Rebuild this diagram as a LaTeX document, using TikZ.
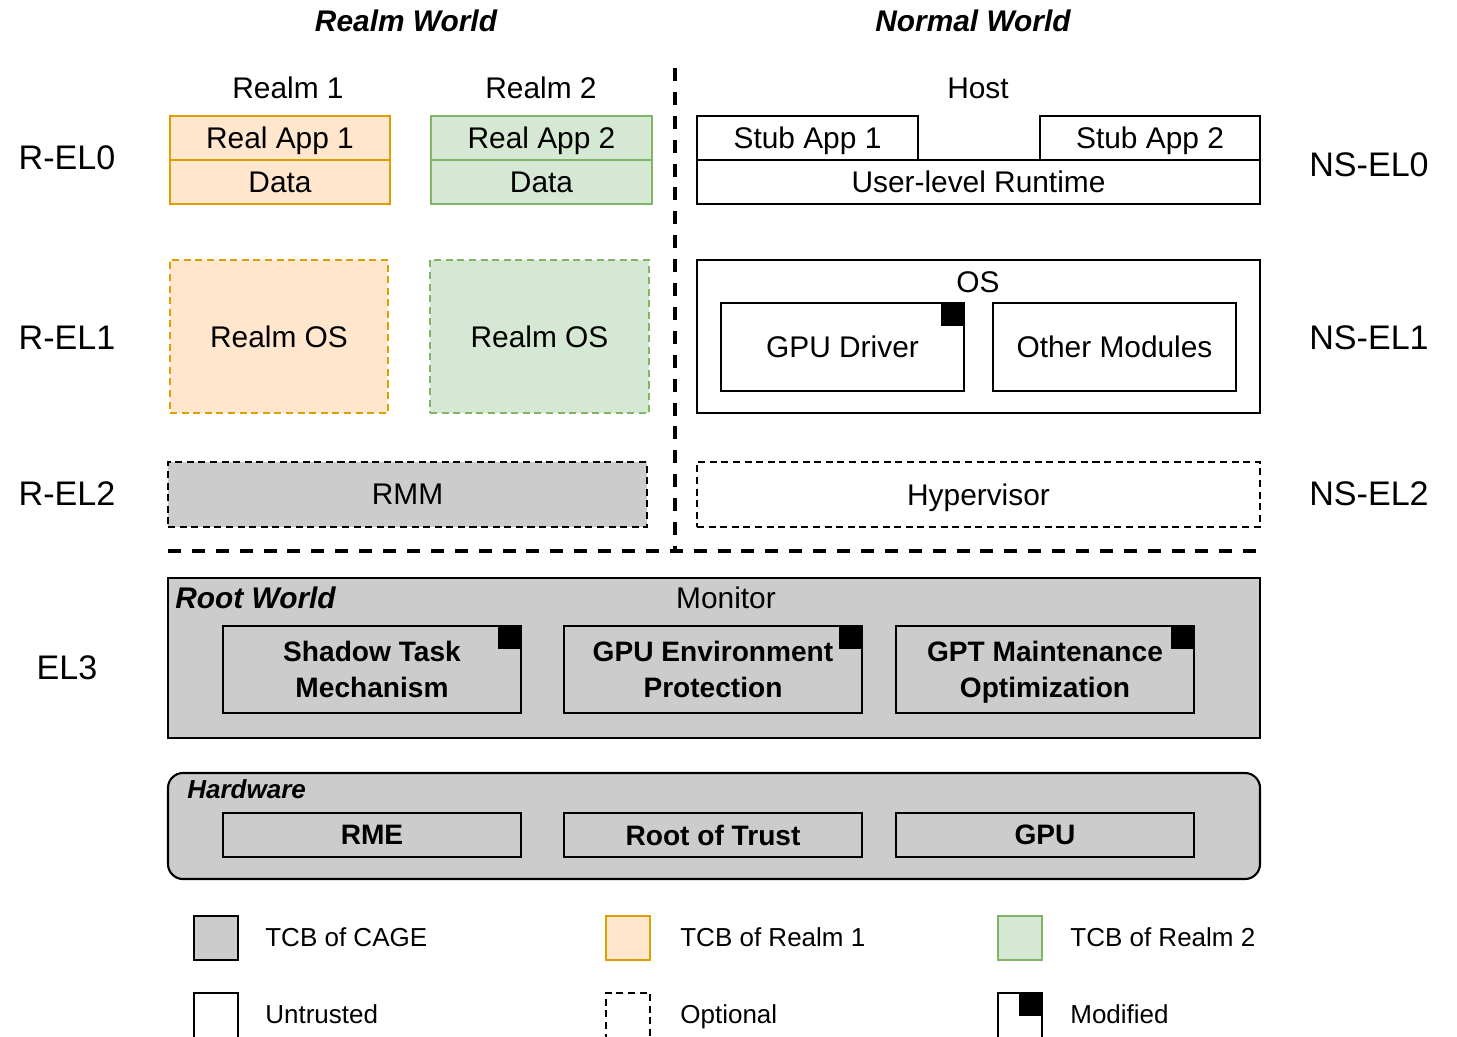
\documentclass[tikz,border=0pt]{standalone}
\usepackage{fontspec}
\setmainfont{Liberation Sans}
\definecolor{orfill}{HTML}{FFE6CC}
\definecolor{ordraw}{HTML}{DDA000}
\definecolor{grfill}{HTML}{D5E8D4}
\definecolor{grdraw}{HTML}{82B366}
\definecolor{gyfill}{HTML}{CCCCCC}
\newcommand\mybox[7]{%
  \pgfmathsetmacro\bw{(#5-#3)*0.02}%
  \pgfmathsetmacro\bh{(#6-#4)*0.02}%
  \node[#1, minimum width=\bw cm, minimum height=\bh cm, inner sep=0pt, outer sep=0pt, anchor=north west] (#2) at (#3,#4) {#7};%
}
\tikzset{
  bx/.style={draw=black, line width=1.2pt, font=\fontsize{17}{20}\selectfont, align=center, text depth=0pt},
  bbx/.style={draw=black, line width=1.2pt, font=\fontsize{16}{20.5}\selectfont\bfseries, align=center, text depth=0pt},
  orbx/.style={bx, draw=ordraw, fill=orfill},
  grbx/.style={bx, draw=grdraw, fill=grfill},
  opt/.style={dash pattern=on 4pt off 2.6pt},
  sep/.style={line width=2.3pt, dash pattern=on 7.4pt off 6.2pt},
  lbl/.style={font=\fontsize{17}{20}\selectfont, inner sep=0pt, text depth=0pt},
  ell/.style={font=\fontsize{19.4}{22}\selectfont, inner sep=0pt, text depth=0pt},
  ttl/.style={font=\fontsize{17}{20}\selectfont\bfseries\itshape, inner sep=0pt, text depth=0pt},
  leg/.style={font=\fontsize{14.8}{18}\selectfont, inner sep=0pt, anchor=west, text depth=0pt},
  modmark/.style={fill=black},
}
\begin{document}
\begin{tikzpicture}[x=0.02cm, y=-0.02cm]
\useasboundingbox[fill=white] (0,0) rectangle (1457,1036);

% titles
\node[ttl] (rwt) at (406,21) {Realm World};
\node[ttl] (nwt) at (973,21) {Normal World};

% separators
\coordinate (vt) at (675,68);
\coordinate (vb) at (675,551);
\coordinate (hl) at (168,551);
\coordinate (hr) at (1260,551);
\draw[sep] (vt) -- (vb);
\draw[sep] (hl) -- (hr);

% EL labels
\node[ell] (rel0) at (67,158) {R-EL0};
\node[ell] (rel1) at (67,338) {R-EL1};
\node[ell] (rel2) at (67,494) {R-EL2};
\node[ell] (el3) at (67,668) {EL3};
\node[ell] (nsel0) at (1369,165) {NS-EL0};
\node[ell] (nsel1) at (1369,338) {NS-EL1};
\node[ell] (nsel2) at (1369,494) {NS-EL2};

% realm headers
\node[lbl] (r1) at (288,88) {Realm 1};
\node[lbl] (r2) at (541,88) {Realm 2};
\node[lbl] (host) at (978,88) {Host};

% EL0 boxes
\mybox{orbx}{ra1}{170}{116}{390}{160}{Real App 1}
\mybox{orbx}{d1}{170}{160}{390}{204}{Data}
\mybox{grbx}{ra2}{431}{116}{652}{160}{Real App 2}
\mybox{grbx}{d2}{431}{160}{652}{204}{Data}
\mybox{bx}{sa1}{697}{116}{918}{160}{Stub App 1}
\mybox{bx}{sa2}{1040}{116}{1260}{160}{Stub App 2}
\mybox{bx}{ulr}{697}{160}{1260}{204}{User-level Runtime}

% EL1 boxes
\mybox{orbx,opt}{ros1}{170}{260}{388}{413}{Realm OS}
\mybox{grbx,opt}{ros2}{430}{260}{649}{413}{Realm OS}
\mybox{bx}{os}{697}{260}{1260}{413}{}
\node[lbl] (oslbl) at (978,282) {OS};
\mybox{bx}{gpud}{721}{303}{964}{391}{GPU Driver}
\fill[modmark] (gpud.north east) rectangle ++(-23,23);
\mybox{bx}{othm}{993}{303}{1236}{391}{Other Modules}

% EL2 boxes
\mybox{bx,opt,fill=gyfill}{rmm}{168}{462}{647}{527}{RMM}
\mybox{bx,opt}{hyp}{697}{462}{1260}{527}{Hypervisor}

% EL3 root world
\mybox{bx,fill=gyfill}{root}{168}{578}{1260}{738}{}
\node[ttl, anchor=west] (rootlbl) at (175,598) {Root World};
\node[lbl] (mon) at (726,598) {Monitor};
\mybox{bbx}{stm}{223}{626}{521}{713}{Shadow Task\\Mechanism}
\fill[modmark] (stm.north east) rectangle ++(-23,23);
\mybox{bbx}{gep}{564}{626}{862}{713}{GPU Environment\\Protection}
\fill[modmark] (gep.north east) rectangle ++(-23,23);
\mybox{bbx}{gpt}{896}{626}{1194}{713}{GPT Maintenance\\Optimization}
\fill[modmark] (gpt.north east) rectangle ++(-23,23);

% hardware
\mybox{bx,fill=gyfill,rounded corners=0.3cm}{hw}{168}{773}{1260}{879}{}
\node[font=\fontsize{14.8}{18}\selectfont\bfseries\itshape, inner sep=0pt, text depth=0pt, anchor=west] (hwlbl) at (187,789) {Hardware};
\mybox{bbx}{rme}{223}{813}{521}{857}{RME}
\mybox{bbx}{rot}{564}{813}{862}{857}{Root of Trust}
\mybox{bbx}{gpu}{896}{813}{1194}{857}{GPU}

% legend
\mybox{bx,fill=gyfill}{lg1}{194}{916}{238}{960}{}
\node[leg] (lt1) at (265,937) {TCB of CAGE};
\mybox{orbx}{lg2}{606}{916}{650}{960}{}
\node[leg] (lt2) at (680,937) {TCB of Realm 1};
\mybox{grbx}{lg3}{998}{916}{1042}{960}{}
\node[leg] (lt3) at (1070,937) {TCB of Realm 2};
\mybox{bx}{lg4}{194}{993}{238}{1050}{}
\node[leg] (lt4) at (265,1014) {Untrusted};
\mybox{bx,opt}{lg5}{606}{993}{650}{1050}{}
\node[leg] (lt5) at (680,1014) {Optional};
\mybox{bx}{lg6}{998}{993}{1042}{1050}{}
\fill[modmark] (lg6.north east) rectangle ++(-23,23);
\node[leg] (lt6) at (1070,1014) {Modified};
\end{tikzpicture}
\end{document}
